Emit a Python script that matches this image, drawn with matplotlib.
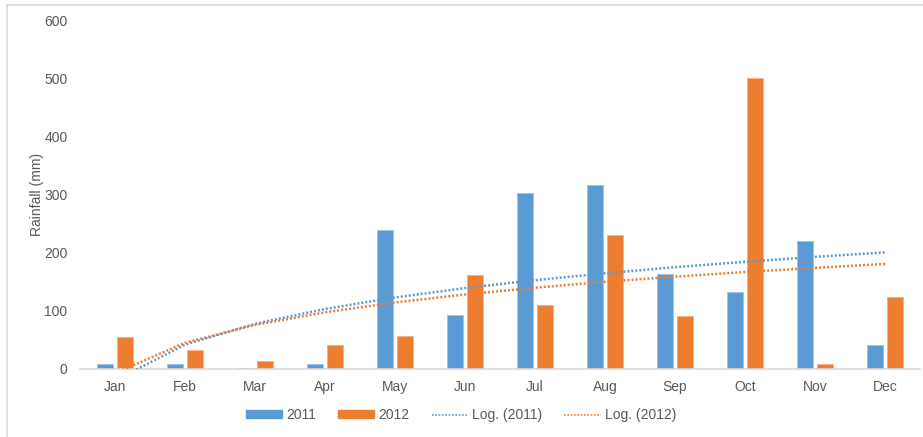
import matplotlib

matplotlib.use("Agg")
import matplotlib.pyplot as plt
from matplotlib.lines import Line2D
import numpy as np

months = ["Jan", "Feb", "Mar", "Apr", "May", "Jun", "Jul", "Aug", "Sep", "Oct", "Nov", "Dec"]
rain_2011 = [8, 8, 2, 8, 239, 92, 303, 317, 164, 133, 220, 41]
rain_2012 = [55, 33, 13, 41, 57, 161, 110, 230, 91, 500, 8, 124]
yticks = [0, 100, 200, 300, 400, 500, 600]

BLUE = "#5B9BD5"
ORANGE = "#ED7D31"
TEXT = "#595959"

plt.rcParams["font.family"] = ["Liberation Sans", "DejaVu Sans"]


def log_trend(values):
    # Excel-style logarithmic trendline: y = a + b*ln(x), x = 1..n
    n = np.arange(1, len(values) + 1)
    b, a = np.polyfit(np.log(n), values, 1)
    return a + b * np.log(n)


fig = plt.figure(figsize=(9.23, 4.37), dpi=100)
ax = fig.add_axes([80 / 923, 68 / 437, 840 / 923, 349 / 437])

x = np.arange(len(months))
w = 0.22
ax.bar(x - 0.143, rain_2011, w, color=BLUE, edgecolor="#9DC3E6", linewidth=0.6, label="2011", zorder=2)
ax.bar(x + 0.143, rain_2012, w, color=ORANGE, edgecolor="#F4B183", linewidth=0.6, label="2012", zorder=2)

trend_2011 = log_trend(rain_2011)
trend_2012 = log_trend(rain_2012)
ax.plot(x, trend_2011, color=BLUE, lw=1.8, dashes=(0.8, 0.8), zorder=3)
ax.plot(x, trend_2012, color=ORANGE, lw=1.8, dashes=(0.8, 0.8), zorder=3)

ax.set_xlim(-0.5, 11.5)
ax.set_ylim(0, 600)
ax.set_yticks(yticks)
ax.set_xticks(x)
ax.set_xticklabels(months)
ax.tick_params(axis="both", length=0, labelsize=10, colors=TEXT)
ax.tick_params(axis="x", pad=8)
ax.tick_params(axis="y", pad=9)
for side in ["top", "right", "left"]:
    ax.spines[side].set_visible(False)
ax.spines["bottom"].set_color("#D9D9D9")
ax.spines["bottom"].set_linewidth(1.2)
ax.set_ylabel("Rainfall (mm)", color=TEXT, fontsize=10, labelpad=0)

handles = [
    plt.Rectangle((0, 0), 1, 1, color=BLUE),
    plt.Rectangle((0, 0), 1, 1, color=ORANGE),
    Line2D([], [], color=BLUE, lw=1.2, dashes=(1, 1)),
    Line2D([], [], color=ORANGE, lw=1.2, dashes=(1, 1)),
]
labels = ["2011", "2012", "Log. (2011)", "Log. (2012)"]
leg = fig.legend(
    handles, labels, loc="center", bbox_to_anchor=(461 / 923, 1 - 415 / 437), ncol=4,
    frameon=False, fontsize=10, handlelength=2.6, handleheight=0.45, handletextpad=0.3,
    columnspacing=1.6, labelcolor=TEXT,
)

# thin frame along the top and left edges
fig.add_artist(Line2D([7 / 923, 1], [1 - 4.5 / 437, 1 - 4.5 / 437], color="#D9D9D9", lw=1.2))
fig.add_artist(Line2D([7 / 923, 7 / 923], [0, 1 - 4.5 / 437], color="#D9D9D9", lw=1.2))

fig.savefig("out.png", dpi=100)
